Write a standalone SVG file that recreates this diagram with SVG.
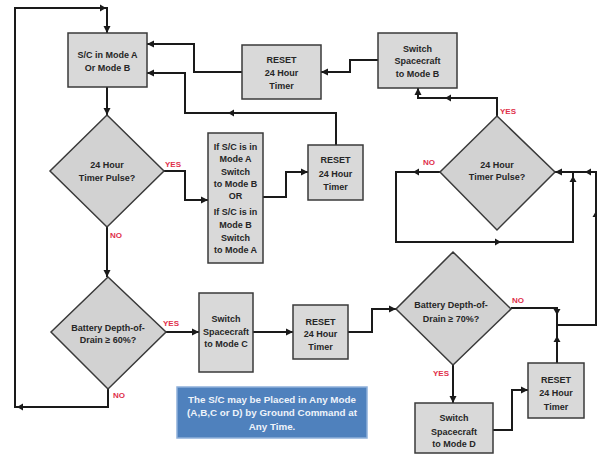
<svg xmlns="http://www.w3.org/2000/svg" xmlns:xlink="http://www.w3.org/1999/xlink" width="597" height="455" viewBox="0 0 597 455">
<style>
.box{fill:#d9d9d9;stroke:#3a3a3a;stroke-width:1.5}
.dia{fill:#d2d2d2;stroke:#3a3a3a;stroke-width:1.5}
.t{font-family:"Liberation Sans",Arial,sans-serif;font-size:9px;font-weight:bold;fill:#262626;text-anchor:middle}
.lbl{font-family:"Liberation Sans",Arial,sans-serif;font-size:8px;font-weight:bold;fill:#e0304a}
.c{fill:none;stroke:#1a1a1a;stroke-width:2;marker-end:url(#m)}
.cn{fill:none;stroke:#1a1a1a;stroke-width:2}
.note{fill:#4f81bd;stroke:#8eb0da;stroke-width:1.5}
.nt{font-family:"Liberation Sans",Arial,sans-serif;font-size:9.8px;font-weight:bold;fill:#eef3fa;text-anchor:middle}
</style>
<defs>
<marker id="m" markerWidth="8" markerHeight="8" refX="7" refY="4" orient="auto" markerUnits="userSpaceOnUse"><path d="M0,0.5 L7,4 L0,7.5 Z" fill="#1a1a1a"/></marker>
<path id="ar" d="M0,0 L-6,-3.5 L-6,3.5 Z" fill="#1a1a1a"/>
</defs>
<rect width="597" height="455" fill="#ffffff"/>

<g id="connectors">
<path class="c" d="M108,389 V407 H15 V8 H107 V33"/>
<path class="c" d="M107,87 V115"/>
<path class="c" d="M107,227 V277"/>
<path class="c" d="M164,171 H185 V200 H208"/>
<path class="c" d="M263,197 H286 V172 H308"/>
<path class="c" d="M336,145 V113 H185 V73 H147"/>
<path class="c" d="M242,72 H194 V44 H147"/>
<path class="c" d="M378,60 H350 V72 H321"/>
<path class="c" d="M497,116 V98 H418 V88"/>
<path class="cn" d="M440,172 H396 V242 H573 V172"/>
<path class="c" d="M557,325 H596 V172 H555"/>
<path class="cn" d="M511,308 H557 V325"/>
<path class="cn" d="M557,363 V325"/>
<path class="c" d="M453,365 V403"/>
<path class="c" d="M493,430 H512 V390 H528"/>
<path class="c" d="M166,332 H199"/>
<path class="c" d="M253,332 H293"/>
<path class="c" d="M348,332 H372 V309 H396"/>
<use xlink:href="#ar" transform="translate(17,407) rotate(180)"/>
<use xlink:href="#ar" transform="translate(106,8)"/>
<use xlink:href="#ar" transform="translate(228,113) rotate(180)"/>
<use xlink:href="#ar" transform="translate(445,98) rotate(180)"/>
<use xlink:href="#ar" transform="translate(413,172) rotate(180)"/>
<use xlink:href="#ar" transform="translate(501,242)"/>
<use xlink:href="#ar" transform="translate(573,176) rotate(-90)"/>
<use xlink:href="#ar" transform="translate(585,172) rotate(180)"/>
<use xlink:href="#ar" transform="translate(596,211) rotate(-90)"/>
<use xlink:href="#ar" transform="translate(557,315) rotate(90)"/>
<use xlink:href="#ar" transform="translate(557,336) rotate(-90)"/>
</g>

<g id="scAB">
<rect class="box" x="68" y="33" width="79" height="54"/>
<text class="t" x="107.5" y="58">S/C in Mode A</text>
<text class="t" x="107.5" y="71">Or Mode B</text>
</g>
<g id="reset1">
<rect class="box" x="242" y="45" width="79" height="54"/>
<text class="t" x="281.5" y="63">RESET</text>
<text class="t" x="281.5" y="76">24 Hour</text>
<text class="t" x="281.5" y="89">Timer</text>
</g>
<g id="switchB">
<rect class="box" x="378" y="33" width="79" height="55"/>
<text class="t" x="417.5" y="52">Switch</text>
<text class="t" x="417.5" y="64">Spacecraft</text>
<text class="t" x="417.5" y="77">to Mode B</text>
</g>
<g id="pulse1">
<polygon class="dia" points="107,115 164,171 107,227 50,171"/>
<text class="t" x="107" y="168">24 Hour</text>
<text class="t" x="107" y="181">Timer Pulse?</text>
<text class="lbl" x="165" y="167">YES</text>
<text class="lbl" x="110" y="238">NO</text>
</g>
<g id="ifbox">
<rect class="box" x="208" y="133" width="55" height="130"/>
<text class="t" x="235.5" y="150">If S/C is in</text>
<text class="t" x="235.5" y="162">Mode A</text>
<text class="t" x="235.5" y="175">Switch</text>
<text class="t" x="235.5" y="187">to Mode B</text>
<text class="t" x="235.5" y="199">OR</text>
<text class="t" x="235.5" y="215">If S/C is in</text>
<text class="t" x="235.5" y="228">Mode B</text>
<text class="t" x="235.5" y="241">Switch</text>
<text class="t" x="235.5" y="253">to Mode A</text>
</g>
<g id="reset2">
<rect class="box" x="308" y="145" width="55" height="55"/>
<text class="t" x="335.5" y="163">RESET</text>
<text class="t" x="335.5" y="177">24 Hour</text>
<text class="t" x="335.5" y="190">Timer</text>
</g>
<g id="pulse2">
<polygon class="dia" points="497,116 555,172 497,230 440,172"/>
<text class="t" x="497" y="168">24 Hour</text>
<text class="t" x="497" y="180">Timer Pulse?</text>
<text class="lbl" x="500" y="114">YES</text>
<text class="lbl" x="423" y="165">NO</text>
</g>
<g id="dod60">
<polygon class="dia" points="108,277 166,332 108,389 51,332"/>
<text class="t" x="108" y="331">Battery Depth-of-</text>
<text class="t" x="108" y="343">Drain ≥ 60%?</text>
<text class="lbl" x="163" y="326">YES</text>
<text class="lbl" x="113" y="398">NO</text>
</g>
<g id="switchC">
<rect class="box" x="199" y="293" width="54" height="79"/>
<text class="t" x="226" y="322">Switch</text>
<text class="t" x="226" y="335">Spacecraft</text>
<text class="t" x="226" y="347">to Mode C</text>
</g>
<g id="reset3">
<rect class="box" x="293" y="305" width="55" height="54"/>
<text class="t" x="320.5" y="325">RESET</text>
<text class="t" x="320.5" y="337">24 Hour</text>
<text class="t" x="320.5" y="350">Timer</text>
</g>
<g id="dod70">
<polygon class="dia" points="453,252 511,309 453,365 396,309"/>
<text class="t" x="451" y="308">Battery Depth-of-</text>
<text class="t" x="451" y="322">Drain ≥ 70%?</text>
<text class="lbl" x="512" y="303">NO</text>
<text class="lbl" x="433" y="376">YES</text>
</g>
<g id="switchD">
<rect class="box" x="415" y="403" width="78" height="50"/>
<text class="t" x="454" y="421">Switch</text>
<text class="t" x="454" y="435">Spacecraft</text>
<text class="t" x="454" y="447">to Mode D</text>
</g>
<g id="reset4">
<rect class="box" x="528" y="363" width="56" height="55"/>
<text class="t" x="556" y="383">RESET</text>
<text class="t" x="556" y="396">24 Hour</text>
<text class="t" x="556" y="410">Timer</text>
</g>
<g id="note">
<rect class="note" x="177" y="387" width="190" height="51"/>
<text class="nt" x="272" y="403">The S/C may be Placed in Any Mode</text>
<text class="nt" x="272" y="416">(A,B,C or D) by Ground Command at</text>
<text class="nt" x="272" y="430">Any Time.</text>
</g>
</svg>
